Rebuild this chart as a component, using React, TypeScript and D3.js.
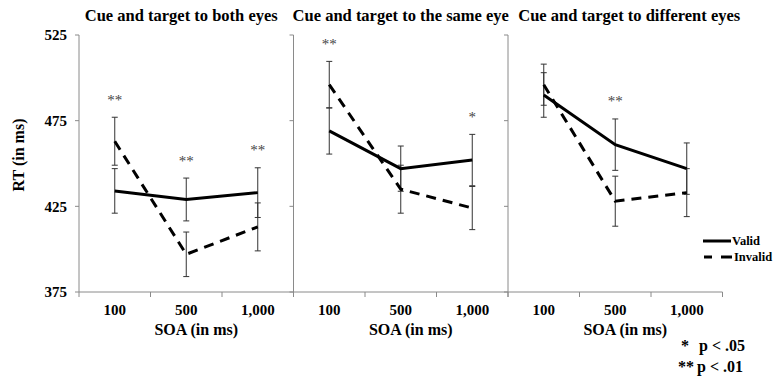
import React from 'react';
import * as d3 from 'd3';

const soaLabels = ['100', '500', '1,000'];
const panelTitles = [
  'Cue and target to both eyes',
  'Cue and target to the same eye',
  'Cue and target to different eyes',
];
const rtTicks = [375, 425, 475, 525];

// mean RT per panel, per SOA
const validRT = [
  [434, 429, 433],
  [469, 447, 452],
  [490, 461, 447],
];
const invalidRT = [
  [463, 397, 413],
  [496, 435, 424],
  [496, 428, 433],
];
const validErr = [
  [13, 12.5, 14.5],
  [13.5, 13.2, 15],
  [13, 15, 15],
];
const invalidErr = [
  [14, 13, 14],
  [13.6, 14, 12.6],
  [12, 14.6, 14],
];
const sigMarks = [
  ['**', '**', '**'],
  ['**', '', '*'],
  ['', '**', ''],
];

const W = 777;
const H = 382;
const serif = 'Liberation Serif, Times New Roman, DejaVu Serif, serif';
const axisColor = '#8a8a8a';

export default function App() {
  const left = 79;
  const panelW = 214.5;
  const top = 35;
  const bottom = 292;

  const y = d3.scaleLinear().domain([375, 525]).range([bottom, top]);
  const xOuter = d3.scaleBand<number>().domain([0, 1, 2]).range([left, left + panelW * 3]);
  const titleShift = [-5, 0, 14];

  const line = d3.line<[number, number]>().x(d => d[0]).y(d => d[1]);

  return (
    <svg width={W} height={H}
      style={{ position: 'absolute', left: 0, top: 0, background: '#fff', fontFamily: serif }}>
      {/* y axis title */}
      <text transform={`translate(24,155) rotate(-90)`} textAnchor="middle" fontSize={16}
        fontWeight="bold">RT (in ms)</text>
      {rtTicks.map(t => (
        <text key={t} x={67} y={y(t)} dy="0.35em" textAnchor="end" fontSize={15}
          fontWeight="bold">{t}</text>
      ))}
      {/* x axis baseline */}
      <line x1={left} x2={left + panelW * 3} y1={bottom} y2={bottom} stroke={axisColor} />

      {[0, 1, 2].map(p => {
        const x0 = xOuter(p) as number;
        const x = d3.scaleBand<string>().domain(soaLabels).range([x0, x0 + panelW]);
        const cx = (s: string) => (x(s) as number) + x.bandwidth() / 2;
        const vPts = soaLabels.map((s, i) => [cx(s), y(validRT[p][i])] as [number, number]);
        const iPts = soaLabels.map((s, i) => [cx(s), y(invalidRT[p][i])] as [number, number]);
        const bars = soaLabels.flatMap((s, i) => [
          { x: cx(s), m: validRT[p][i], e: validErr[p][i] },
          { x: cx(s), m: invalidRT[p][i], e: invalidErr[p][i] },
        ]);
        return (
          <g key={p}>
            <text x={x0 + panelW / 2 + titleShift[p]} y={21} textAnchor="middle" fontSize={16.5}
              fontWeight="bold">{panelTitles[p]}</text>
            {/* y axis line with ticks */}
            <line x1={x0} x2={x0} y1={top} y2={bottom} stroke={axisColor} />
            {rtTicks.map(t => (
              <line key={t} x1={x0 - 4} x2={x0} y1={y(t)} y2={y(t)} stroke={axisColor} />
            ))}
            {/* x ticks at band edges */}
            {[0, 1, 2, 3].map(k => (
              <line key={k} x1={x0 + k * x.bandwidth()} x2={x0 + k * x.bandwidth()} y1={bottom}
                y2={bottom + 5} stroke={axisColor} />
            ))}
            {soaLabels.map(s => (
              <text key={s} x={cx(s)} y={315} textAnchor="middle" fontSize={15}
                fontWeight="bold">{s}</text>
            ))}
            <text x={x0 + panelW / 2 + 10} y={334.5} textAnchor="middle" fontSize={16}
              fontWeight="bold">SOA (in ms)</text>

            {/* error bars */}
            {bars.map((b, k) => (
              <g key={k} stroke="#333" strokeWidth={1}>
                <line x1={b.x} x2={b.x} y1={y(b.m + b.e)} y2={y(b.m - b.e)} />
                <line x1={b.x - 3} x2={b.x + 3} y1={y(b.m + b.e)} y2={y(b.m + b.e)} />
                <line x1={b.x - 3} x2={b.x + 3} y1={y(b.m - b.e)} y2={y(b.m - b.e)} />
              </g>
            ))}
            <path d={line(iPts) || ''} fill="none" stroke="#000" strokeWidth={3}
              strokeDasharray="10,7" />
            <path d={line(vPts) || ''} fill="none" stroke="#000" strokeWidth={3} />

            {/* significance marks */}
            {soaLabels.map((s, i) => {
              if (!sigMarks[p][i]) return null;
              const topVal = Math.max(validRT[p][i] + validErr[p][i], invalidRT[p][i] + invalidErr[p][i]);
              return (
                <text key={s} x={cx(s)} y={y(topVal) - 20} dy="0.5em" textAnchor="middle"
                  fontSize={15} fill="#444">{sigMarks[p][i]}</text>
              );
            })}
          </g>
        );
      })}

      {/* legend */}
      <g fontWeight="bold" fontSize={12.5}>
        <line x1={703} x2={731} y1={241} y2={241} stroke="#000" strokeWidth={3} />
        <text x={732} y={241} dy="0.35em">Valid</text>
        <line x1={704} x2={732} y1={257} y2={257} stroke="#000" strokeWidth={3}
          strokeDasharray="8,9,11" />
        <text x={734} y={257} dy="0.35em">Invalid</text>
      </g>

      {/* footnote */}
      <g fontWeight="bold" fontSize={16}>
        <text x={681} y={351}>*</text>
        <text x={699} y={351}>p &lt; .05</text>
        <text x={678} y={372}>**</text>
        <text x={697} y={372}>p &lt; .01</text>
      </g>
    </svg>
  );
}
